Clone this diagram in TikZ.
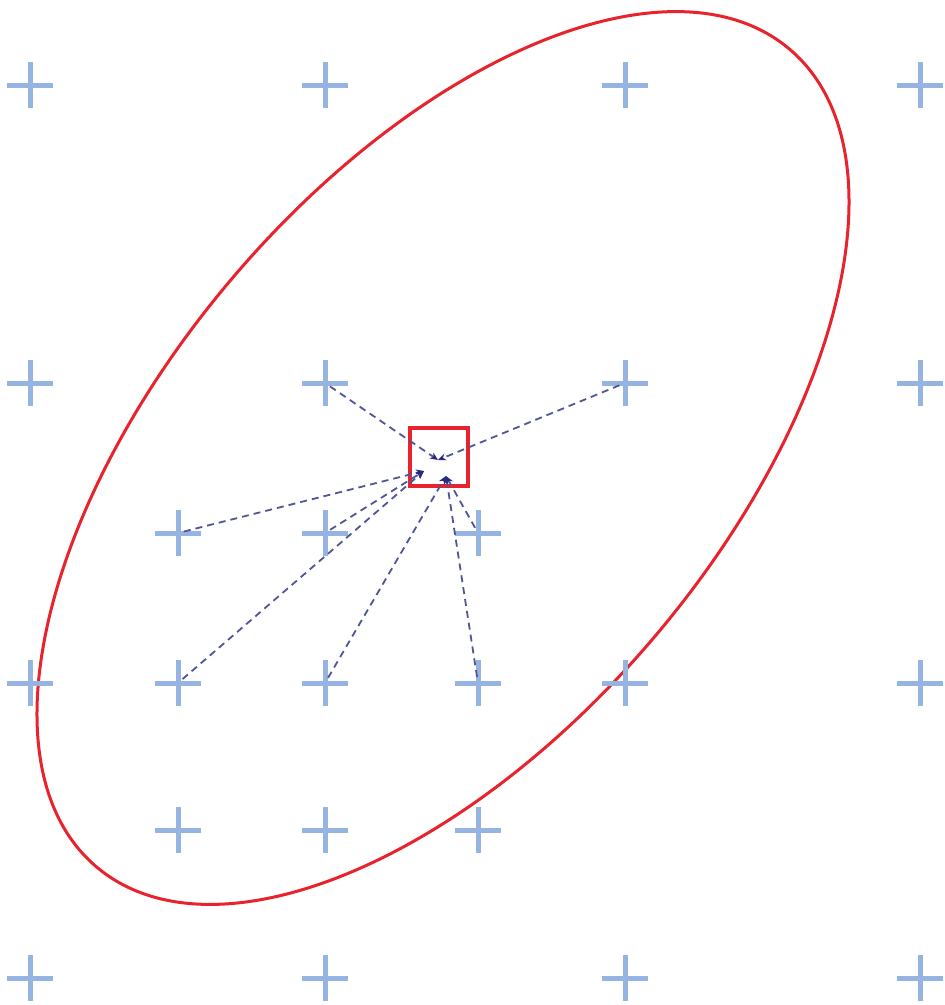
\documentclass[tikz,border=0pt]{standalone}
\usetikzlibrary{shapes.misc,arrows.meta}
\definecolor{plusblue}{RGB}{150,180,225}
\definecolor{ellred}{RGB}{232,35,45}
\definecolor{dashblue}{RGB}{80,85,150}
\definecolor{tipblue}{RGB}{40,40,130}
\tikzset{
  plusmark/.style={cross out,draw=plusblue,line width=5pt,minimum size=28pt,inner sep=0pt,rotate=45},
  conn/.style={draw=dashblue,line width=1.8pt,dash pattern=on 7pt off 5pt,-{Stealth[length=8pt,width=7pt,color=tipblue]},shorten <=6pt},
  selbox/.style={draw=ellred,line width=4pt,minimum size=58pt,inner sep=0pt},
}
\begin{document}
\begin{tikzpicture}[x=1pt,y=-1pt]
\useasboundingbox (0,0) rectangle (945,1005);
% red ellipse
\draw[ellred,line width=3pt,rotate around={49.7:(443,458)}] (443,458) ellipse [x radius=536, y radius=277];
% plus markers
\foreach \n/\x/\y in {a1/30/85,a2/325/85,a3/625/85,a4/920/85,
  b1/30/383,b2/325/383,b3/625/383,b4/920/383,
  c2/178/533,c3/325/533,c4/478/533,
  d1/30/683,d2/178/683,d3/325/683,d4/478/683,d5/625/683,d6/920/683,
  e2/178/830,e3/325/830,e4/478/830,
  f1/30/978,f2/325/978,f3/625/978,f4/920/978}
  {\node[plusmark] (\n) at (\x,\y) {};}
% centre
\coordinate (c) at (438,460);
\coordinate (cl) at (424,471);
\coordinate (cb) at (446,476);
\node[selbox] (box) at (439,457) {};
% connectors
\draw[conn] (b2.center) -- (c);
\draw[conn] (b3.center) -- (c);
\draw[conn] (c2.center) -- (cl);
\draw[conn] (c3.center) -- (cl);
\draw[conn] (d2.center) -- (cl);
\draw[conn] (d3.center) -- (cb);
\draw[conn] (d4.center) -- (cb);
\draw[conn] (c4.center) -- (cb);
\end{tikzpicture}
\end{document}
